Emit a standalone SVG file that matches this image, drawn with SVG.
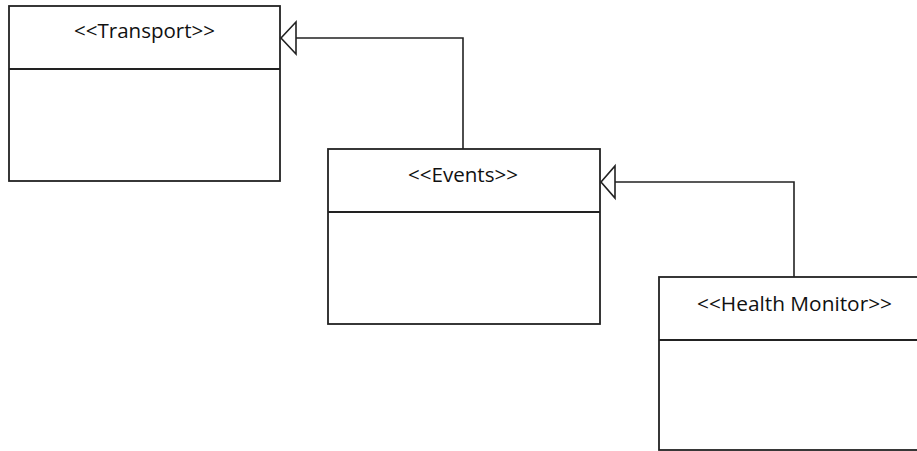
<svg xmlns="http://www.w3.org/2000/svg" width="917" height="451" viewBox="0 0 917 451">
<style>
.box{fill:#fff;stroke:#222;stroke-width:1.8}
.div{stroke:#222;stroke-width:1.8}
.lbl{font-family:"Open Sans","Liberation Sans",sans-serif;font-size:20px;fill:#111;text-anchor:middle}
.conn{fill:none;stroke:#222;stroke-width:1.6}
.head{fill:#fff;stroke:#222;stroke-width:1.6}
</style>
<rect width="917" height="451" fill="#fff"/>
<g id="transport">
<rect class="box" x="9" y="6" width="271" height="175"/>
<line class="div" x1="9" y1="69" x2="280" y2="69"/>
<text class="lbl" x="144.5" y="38" textLength="141" lengthAdjust="spacingAndGlyphs">&lt;&lt;Transport&gt;&gt;</text>
</g>
<g id="events">
<rect class="box" x="328" y="149" width="272" height="175"/>
<line class="div" x1="328" y1="212" x2="600" y2="212"/>
<text class="lbl" x="463" y="182" textLength="110" lengthAdjust="spacingAndGlyphs">&lt;&lt;Events&gt;&gt;</text>
</g>
<g id="health-monitor">
<rect class="box" x="659" y="277" width="270" height="173"/>
<line class="div" x1="659" y1="340" x2="929" y2="340"/>
<text class="lbl" x="794.5" y="311" textLength="195" lengthAdjust="spacingAndGlyphs">&lt;&lt;Health Monitor&gt;&gt;</text>
</g>
<g id="connectors">
<polyline class="conn" points="463,149 463,38 296,38"/>
<polygon class="head" points="281,38 296,22 296,54"/>
<polyline class="conn" points="794,277 794,182 615,182"/>
<polygon class="head" points="601,182 615,166 615,198"/>
</g>
</svg>
